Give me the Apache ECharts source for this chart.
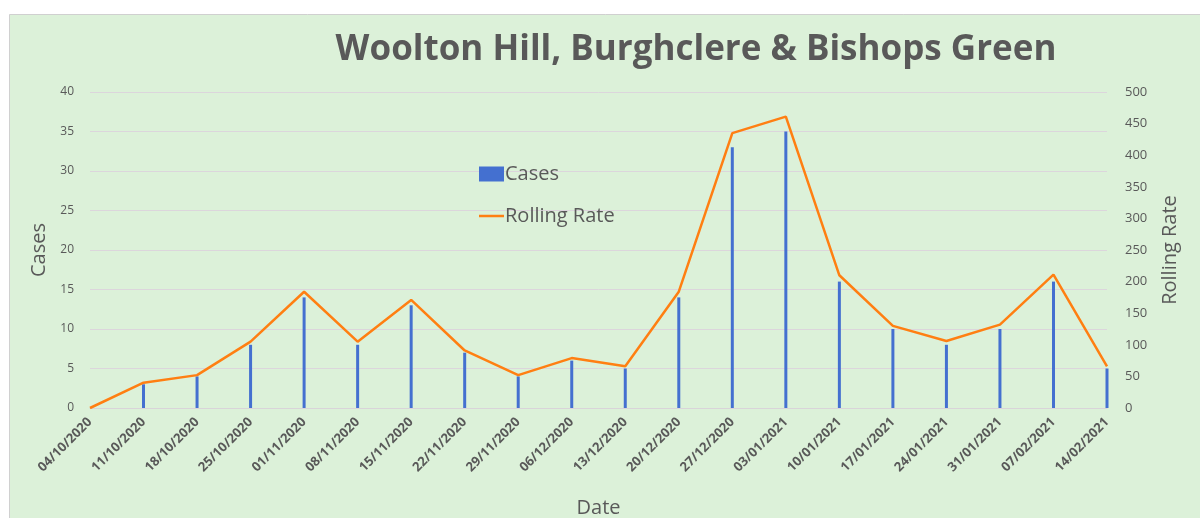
<!DOCTYPE html>
<html>
<head>
<meta charset="utf-8">
<script src="https://cdn.jsdelivr.net/npm/echarts@6/dist/echarts.min.js"></script>
<style>
html,body{margin:0;padding:0;background:#fff;}
#c{width:1200px;height:518px;}
</style>
</head>
<body>
<div id="c"></div>
<script>
const dates = ['04/10/2020','11/10/2020','18/10/2020','25/10/2020','01/11/2020','08/11/2020','15/11/2020','22/11/2020','29/11/2020','06/12/2020','13/12/2020','20/12/2020','27/12/2020','03/01/2021','10/01/2021','17/01/2021','24/01/2021','31/01/2021','07/02/2021','14/02/2021'];
const cases = [0,3,4,8,14,8,13,7,4,6,5,14,33,35,16,10,8,10,16,5];
const rollingRate = [0,40,52,105,184,105,171,91,52,79,66,184,435,461,210,130,106,132,211,66];
const titleText = 'Woolton Hill, Burghclere & Bishops Green';

const chart = echarts.init(document.getElementById('c'));
const font = 'Open Sans, Lato, sans-serif';
chart.setOption({
  animation: false,
  graphic: [{
    type: 'rect', silent: true, z: -10,
    shape: {x: 9.5, y: 14.5, width: 1200, height: 520},
    style: {fill: '#dcf1d9', stroke: '#d0d0d0', lineWidth: 1}
  }],
  title: {
    text: titleText, left: 691, top: 28, textAlign: 'center',
    textStyle: {fontFamily: font, fontWeight: 'bold', fontSize: 35, color: '#595959'}
  },
  legend: {
    orient: 'vertical', left: 474, top: 159, itemGap: 22,
    itemWidth: 25, itemHeight: 15,
    textStyle: {fontFamily: font, fontSize: 20, color: '#595959', padding: [0,0,0,-4]},
    data: [{name: 'Cases', icon: 'rect'}, {name: 'Rolling Rate', icon: 'path://M0,0 H25 V2.5 H0 Z'}]
  },
  grid: {left: 90, right: 93, top: 92, bottom: 110, outerBoundsMode: 'none'},
  xAxis: {
    type: 'category', data: dates, boundaryGap: false,
    name: 'Date', nameLocation: 'middle', nameGap: 90,
    nameTextStyle: {fontFamily: font, fontSize: 20, color: '#595959'},
    axisLine: {lineStyle: {color: '#d9d4d9'}},
    axisTick: {show: false},
    axisLabel: {rotate: 45, margin: 12, fontFamily: font, fontSize: 13, fontWeight: 'bold', color: '#595959', interval: 0}
  },
  yAxis: [{
    type: 'value', min: 0, max: 40, interval: 5,
    name: 'Cases', nameLocation: 'middle', nameGap: 32, nameRotate: 90,
    nameTextStyle: {fontFamily: font, fontSize: 20, color: '#595959'},
    axisLine: {show: false}, axisTick: {show: false},
    axisLabel: {margin: 16, fontFamily: font, fontSize: 12, color: '#595959'},
    splitLine: {lineStyle: {color: '#dcd6dc', width: 1}}
  }, {
    type: 'value', min: 0, max: 500, interval: 50,
    name: 'Rolling Rate', nameLocation: 'middle', nameGap: 53, nameRotate: 90,
    nameTextStyle: {fontFamily: font, fontSize: 20, color: '#595959'},
    axisLine: {show: false}, axisTick: {show: false},
    axisLabel: {margin: 18, fontFamily: font, fontSize: 13, color: '#595959'},
    splitLine: {show: false}
  }],
  series: [{
    name: 'Cases', type: 'bar', data: cases, yAxisIndex: 0,
    barWidth: 3, itemStyle: {color: '#4470d0'}
  }, {
    name: 'Rolling Rate', type: 'line', data: rollingRate, yAxisIndex: 1,
    symbol: 'none', lineStyle: {color: '#ff7f12', width: 2.5}, itemStyle: {color: '#ff7f12'}
  }]
});
</script>
</body>
</html>
